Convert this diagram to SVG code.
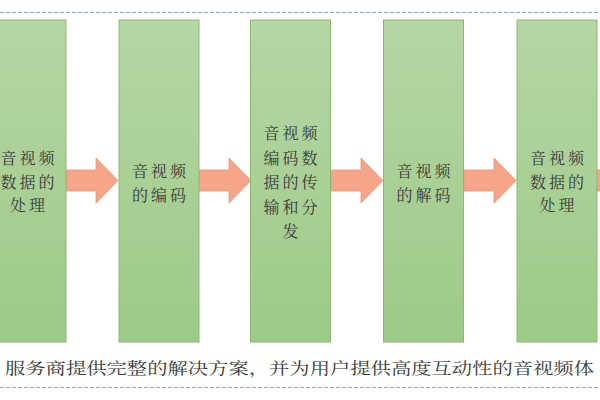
<svg xmlns="http://www.w3.org/2000/svg" width="600" height="400" viewBox="0 0 600 400">
  <defs>
    <linearGradient id="gfill" x1="0" y1="0" x2="0" y2="1">
      <stop offset="0" stop-color="#B6D6A5"/>
      <stop offset="1" stop-color="#9DCA86"/>
    </linearGradient>
    <polygon id="arrow" points="0,170 30,170 30,158 52,180.5 30,203 30,191 0,191"/>
    <style>
      .box { fill: url(#gfill); stroke: #8DB872; stroke-width: 1; }
      .lbl { font-family: "Noto Serif CJK SC", "Noto Sans CJK SC", serif; font-size: 16px; fill: #3a3a3a; text-anchor: middle; letter-spacing: 3px; }
      .arr { fill: #F5A68A; stroke: #EE9576; stroke-width: 0.8; }
      .dash { stroke: #8FA8C8; stroke-width: 1; stroke-dasharray: 4 2; fill: none; }
      .cap { font-family: "Noto Serif CJK SC", "Noto Sans CJK SC", serif; font-size: 16px; fill: #3a3a3a; }
    </style>
  </defs>
  <rect x="0" y="0" width="600" height="400" fill="#ffffff"/>
  <line class="dash" x1="0" y1="12.5" x2="600" y2="12.5"/>
  <line class="dash" x1="0" y1="387.5" x2="600" y2="387.5"/>

  <g id="connectors">
    <use href="#arrow" class="arr" x="66" y="0"/>
    <use href="#arrow" class="arr" x="199" y="0"/>
    <use href="#arrow" class="arr" x="331" y="0"/>
    <use href="#arrow" class="arr" x="464" y="0"/>
    <use href="#arrow" class="arr" x="597" y="0"/>
  </g>

  <g id="node1">
    <rect class="box" x="-14" y="20" width="80" height="322"/>
    <text class="lbl" x="29" y="164">音视频</text>
    <text class="lbl" x="29" y="187.5">数据的</text>
    <text class="lbl" x="29" y="211">处理</text>
  </g>
  <g id="node2">
    <rect class="box" x="119" y="20" width="80" height="322"/>
    <text class="lbl" x="160.5" y="177">音视频</text>
    <text class="lbl" x="160.5" y="200.5">的编码</text>
  </g>
  <g id="node3">
    <rect class="box" x="250.5" y="20" width="80" height="322"/>
    <text class="lbl" x="292" y="139">音视频</text>
    <text class="lbl" x="292" y="163.5">编码数</text>
    <text class="lbl" x="292" y="188">据的传</text>
    <text class="lbl" x="292" y="212.5">输和分</text>
    <text class="lbl" x="292" y="237">发</text>
  </g>
  <g id="node4">
    <rect class="box" x="383.5" y="20" width="80" height="322"/>
    <text class="lbl" x="425" y="177">音视频</text>
    <text class="lbl" x="425" y="200.5">的解码</text>
  </g>
  <g id="node5">
    <rect class="box" x="517" y="20" width="80" height="322"/>
    <text class="lbl" x="558.5" y="164">音视频</text>
    <text class="lbl" x="558.5" y="187.5">数据的</text>
    <text class="lbl" x="558.5" y="211">处理</text>
  </g>

  <text class="cap" x="5" y="374" textLength="589" lengthAdjust="spacingAndGlyphs">服务商提供完整的解决方案，并为用户提供高度互动性的音视频体</text>
</svg>
